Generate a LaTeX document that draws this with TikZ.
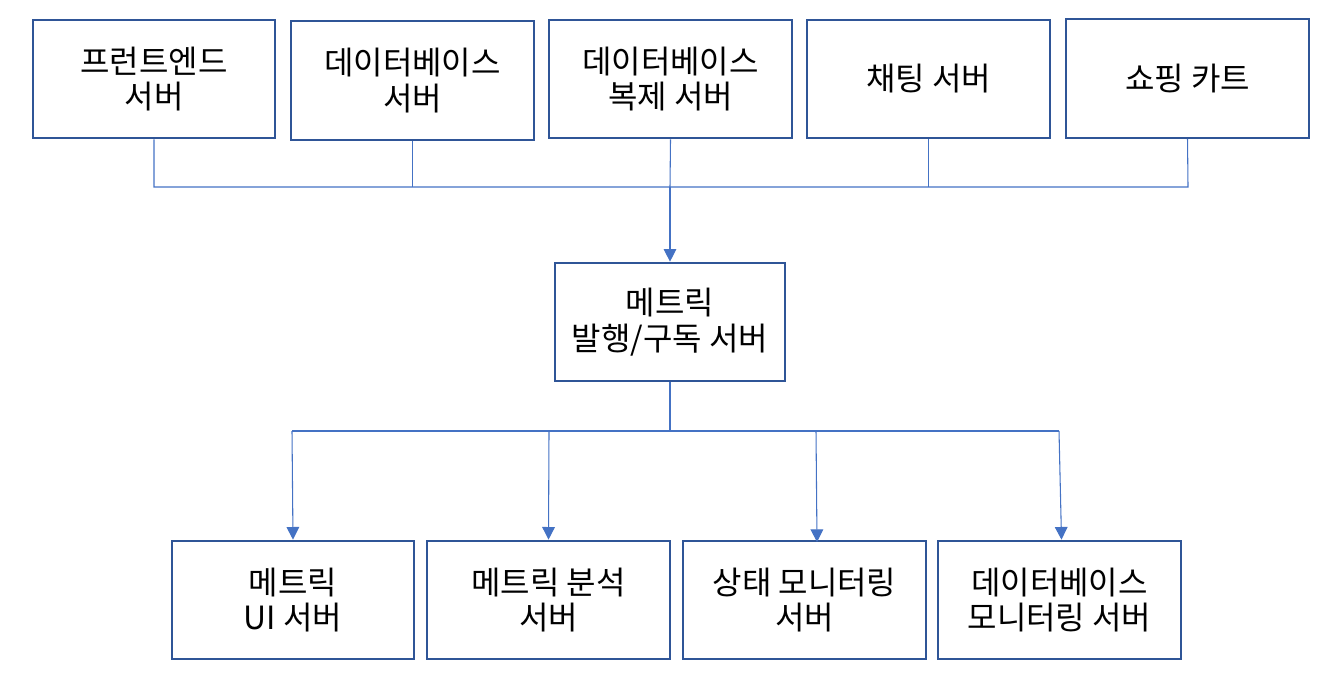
\documentclass[tikz,border=0pt]{standalone}
\usepackage{fontspec}
\setmainfont{Noto Sans CJK KR}
\usetikzlibrary{arrows.meta}
\begin{document}
\begin{tikzpicture}[x=0.75pt,y=-0.75pt,
  box/.style={draw=boxblue,line width=1.5pt,minimum width=182pt,minimum height=89pt,inner sep=0pt,align=center,font=\fontsize{24}{26.5}\selectfont},
  conn/.style={draw=lineblue,line width=0.8pt},
  arr/.style={conn,-{Triangle[length=9.5pt,width=9.5pt]}}]
\definecolor{boxblue}{HTML}{2F5597}
\definecolor{lineblue}{HTML}{4472C4}
\useasboundingbox (0,0) rectangle (1337,678);
\node[box] (t1) at (154,79) {프런트엔드\\서버};
\node[box] (t2) at (412.5,80.5) {데이터베이스\\서버};
\node[box] (t3) at (670.5,79) {데이터베이스\\복제 서버};
\node[box] (t4) at (928.5,79) {채팅 서버};
\node[box] (t5) at (1187.5,78.5) {쇼핑 카트};
\node[box,minimum width=172pt] (m) at (670,322) {메트릭\\발행/구독 서버};
\node[box] (b1) at (293,600) {메트릭\\UI 서버};
\node[box] (b2) at (548.5,600) {메트릭 분석\\서버};
\node[box] (b3) at (804.5,600) {상태 모니터링\\서버};
\node[box] (b4) at (1059.5,600) {데이터베이스\\모니터링 서버};
\coordinate (h1) at (154,187);
\coordinate (h5) at (1188,187);
\coordinate (hm) at (670,187);
\draw[conn] (t1.south) -- (h1) -- (h5) -- (t5.south);
\draw[conn] (t2.south) -- (t2.south |- h1);
\draw[conn] (t4.south) -- (t4.south |- h1);
\draw[conn] (t3.south) -- (hm);
\draw[arr] (hm) -- (m.north);
\coordinate (l1) at (292,431);
\coordinate (l4) at (1059,431);
\coordinate (lm) at (670,431);
\draw[conn] (m.south) -- (lm);
\draw[conn] (l1) -- (l4);
\draw[arr] (l1) -- (b1.north);
\draw[arr] (549,431) -- (b2.north);
\draw[arr] (816,431) -- (817,542);
\draw[arr] (l4) -- ([xshift=1.5pt]b4.north);
\end{tikzpicture}
\end{document}
